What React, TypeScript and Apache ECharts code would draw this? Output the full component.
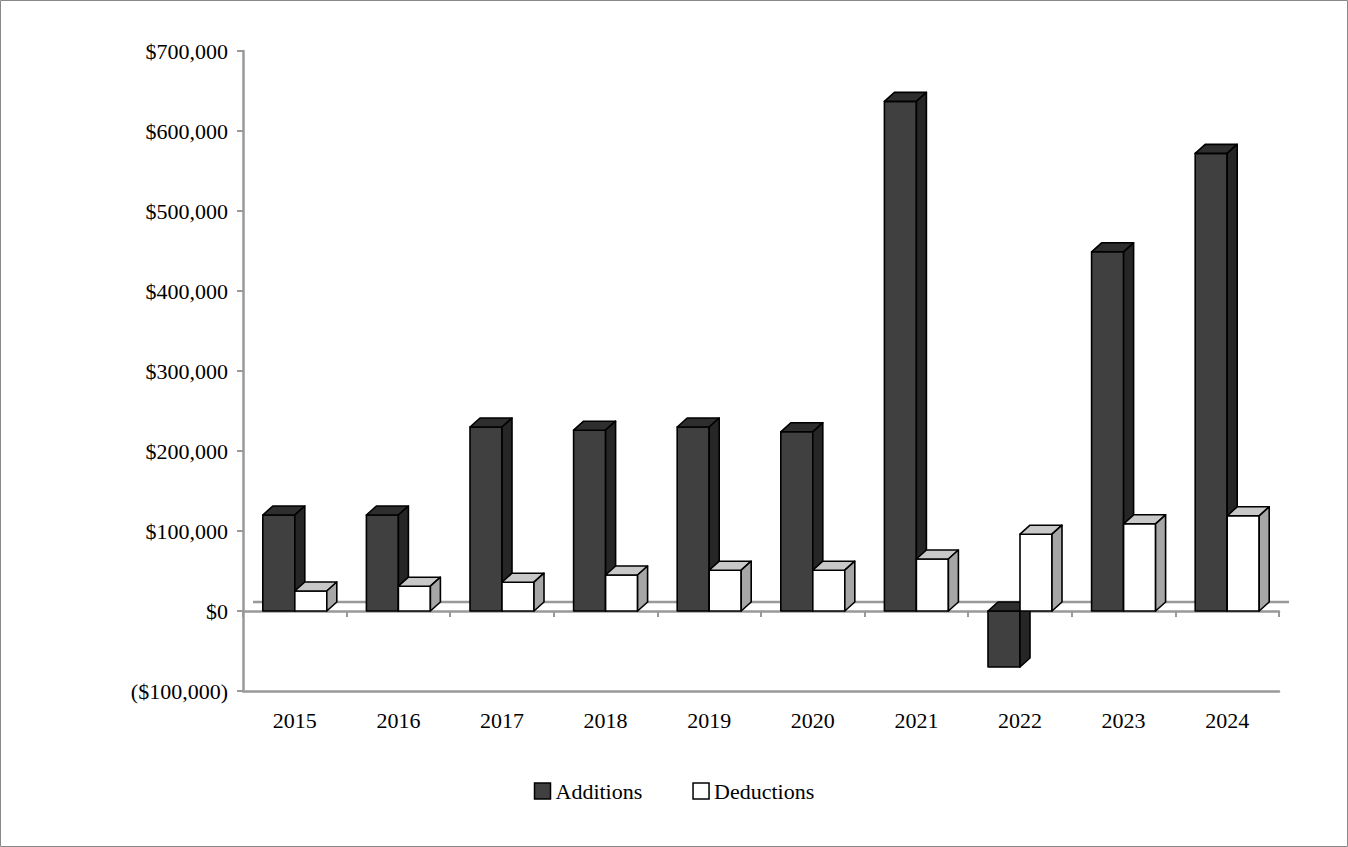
import React, { useEffect, useRef } from "react";
import * as echarts from "echarts";

const categories = ["2015", "2016", "2017", "2018", "2019", "2020", "2021", "2022", "2023", "2024"];
const additions = [120000, 120000, 230000, 226000, 230000, 224000, 637000, -70000, 449000, 572000];
const deductions = [25000, 31000, 36000, 45000, 51000, 51000, 65000, 96000, 109000, 119000];

const DX = 10;
const DY = 9;
const BW = 32;

function makeRender(offset: number, front: string, top: string, side: string) {
  return (params: any, api: any) => {
    const idx = api.value(0);
    const val = api.value(1);
    const c = api.coord([idx, 0]);
    const v = api.coord([idx, val]);
    const yTop = Math.min(c[1], v[1]);
    const yBot = Math.max(c[1], v[1]);
    const x0 = c[0] + offset * BW;
    const x1 = x0 + BW;
    const ls = { stroke: "#000", lineWidth: 1.6, lineJoin: "round" };
    return {
      type: "group",
      children: [
        { type: "rect", shape: { x: x0, y: yTop, width: BW, height: yBot - yTop }, style: { fill: front, ...ls } },
        { type: "polygon", shape: { points: [[x0, yTop], [x0 + DX, yTop - DY], [x1 + DX, yTop - DY], [x1, yTop]] }, style: { fill: top, ...ls } },
        { type: "polygon", shape: { points: [[x1, yTop], [x1 + DX, yTop - DY], [x1 + DX, yBot - DY], [x1, yBot]] }, style: { fill: side, ...ls } },
      ],
    };
  };
}

export default function App() {
  const ref = useRef<HTMLDivElement>(null);
  useEffect(() => {
    document.body.style.margin = "0";
    const chart = echarts.init(ref.current!, null, { renderer: "svg" });
    const font = "'Liberation Serif', 'DejaVu Serif', serif";
    const fmt = (v: number) => {
      const s = "$" + Math.abs(v).toLocaleString("en-US");
      return v < 0 ? "(" + s + ")" : s;
    };
    chart.setOption({
      animation: false,
      textStyle: { fontFamily: font },
      grid: { left: 243, right: 69, top: 51, bottom: 156 },
      legend: {
        bottom: 40,
        left: "center",
        itemGap: 50,
        itemWidth: 16,
        itemHeight: 16,
        icon: "rect",
        textStyle: { fontSize: 22, color: "#000", fontFamily: font },
        data: [
          { name: "Additions", itemStyle: { color: "#404040", borderColor: "#000", borderWidth: 1.5 } },
          { name: "Deductions", itemStyle: { color: "#fff", borderColor: "#000", borderWidth: 1.5 } },
        ],
      },
      xAxis: [
        {
          type: "category",
          data: categories,
          position: "bottom",
          axisLine: { onZero: false, lineStyle: { color: "#999", width: 2.5 } },
          axisTick: { show: false },
          axisLabel: { fontSize: 22, color: "#000", margin: 18, fontFamily: font },
        },
        {
          type: "category",
          data: categories,
          position: "bottom",
          axisLine: { onZero: true, lineStyle: { color: "#999", width: 2.5 } },
          axisTick: { show: true, length: 6, lineStyle: { color: "#999", width: 2 } },
          axisLabel: { show: false },
        },
      ],
      yAxis: {
        type: "value",
        min: -100000,
        max: 700000,
        interval: 100000,
        axisLine: { show: true, lineStyle: { color: "#999", width: 2.5 } },
        axisTick: { show: true, length: 6, lineStyle: { color: "#999", width: 2 } },
        splitLine: { show: false },
        axisLabel: { fontSize: 22, color: "#000", margin: 15, formatter: fmt, fontFamily: font },
      },
      graphic: [
        { type: "rect", shape: { x: 0.5, y: 0.5, width: 1347, height: 846 }, style: { fill: "none", stroke: "#888", lineWidth: 1 } },
      ],
      series: [
        {
          type: "custom",
          name: "floor",
          silent: true,
          data: [[0, 0]],
          renderItem: (params: any, api: any) => {
            const band = api.size([1, 0])[0];
            const c = api.coord([0, 0]);
            const x0 = c[0] - band / 2 + DX;
            const x1 = x0 + band * categories.length;
            return { type: "line", shape: { x1: x0, y1: c[1] - DY, x2: x1, y2: c[1] - DY }, style: { stroke: "#999", lineWidth: 2.5 } };
          },
          z: 1,
        },
        {
          type: "custom",
          name: "Additions",
          data: additions.map((v, i) => [i, v]),
          renderItem: makeRender(-1, "#404040", "#2e2e2e", "#262626"),
          itemStyle: { color: "#404040" },
          z: 2,
        },
        {
          type: "custom",
          name: "Deductions",
          data: deductions.map((v, i) => [i, v]),
          renderItem: makeRender(0, "#ffffff", "#c8c8c8", "#a6a6a6"),
          itemStyle: { color: "#fff" },
          z: 3,
        },
      ],
    });
    return () => chart.dispose();
  }, []);
  return <div ref={ref} style={{ width: 1348, height: 847 }} />;
}
